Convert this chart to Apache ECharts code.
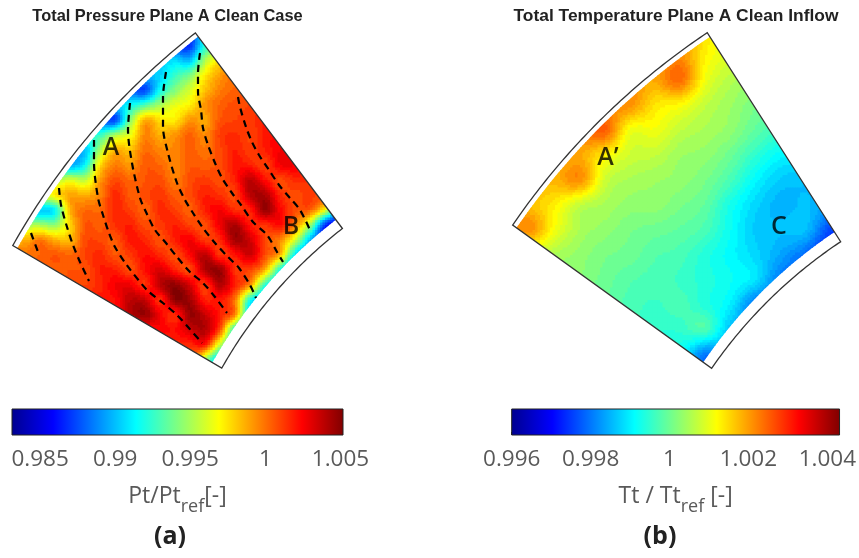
<!DOCTYPE html>
<html><head><meta charset="utf-8">
<style>html,body{margin:0;padding:0;background:#fff}#c{width:859px;height:558px}</style>
<script src="https://cdn.jsdelivr.net/npm/echarts@6/dist/echarts.min.js"></script>
</head><body><div id="c"></div>
<script>
// Sampled fields, in units of 1e-4 away from 1.0
const ptRows = [
[-130,-130,-130,-130,-130,-130,-130,-130,-130,-130,-130,-130,-130,-80,-60,-40,-20,-20,-20,-20,-20,-20,-20],
[-130,-130,-130,-130,-130,-130,-130,-130,-130,-130,-130,-130,-130,-80,-60,-40,-20,-20,-20,-20,-20,-20,-20],
[-100,-100,-100,-100,-100,-100,-100,-100,-100,-100,-100,-95,-100,-50,-25,-10,-10,-10,-10,-10,-10,-10,-10],
[-100,-100,-100,-100,-100,-100,-100,-100,-100,-100,-95,-75,-60,-28,-10,0,0,0,0,0,0,0,0],
[-120,-120,-120,-120,-120,-120,-120,-120,-120,-125,-85,-58,-40,-18,-3,3,5,5,5,5,5,5,5],
[-100,-100,-100,-100,-100,-100,-100,-100,-85,-70,-50,-36,-28,-8,3,8,10,12,12,12,12,12,12],
[-120,-120,-120,-120,-120,-120,-120,-125,-60,-14,-25,-27,-8,-12,6,10,12,18,18,18,18,18,18],
[-80,-80,-80,-80,-80,-80,-75,-50,-35,-5,-14,-8,3,-6,11,15,10,19,24,24,24,24,24],
[-100,-100,-100,-100,-100,-100,-50,-15,-18,1,-5,-5,4,-1,9,18,11,18,26,24,24,24,24],
[-105,-105,-105,-105,-105,-85,-25,-3,-9,5,2,-5,5,4,8,20,18,11,26,26,20,20,20],
[-50,-50,-50,-50,-38,-45,-10,8,2,6,8,-3,8,12,8,18,38,22,9,16,14,14,14],
[-40,-40,-40,-28,-12,-14,-4,16,5,8,13,4,8,18,14,10,38,42,16,8,12,8,5],
[-90,-90,-95,-85,-15,1,2,16,11,3,15,11,4,18,26,15,18,46,24,8,3,-35,-100],
[-50,-50,-50,-55,-22,6,4,14,18,8,12,18,10,8,28,42,20,14,22,-5,-50,-130,-150],
[-15,-15,-2,-14,-16,8,9,5,20,16,7,18,26,12,16,44,34,10,-5,-40,-100,-140,-150],
[0,0,2,6,2,10,16,6,12,22,16,8,24,38,14,20,34,8,-15,-90,-120,-130,-130],
[4,4,4,4,6,7,18,18,8,22,32,18,9,40,46,14,10,-15,-80,-120,-130,-130,-130],
[8,8,8,8,8,10,16,26,28,14,38,48,32,12,40,18,-8,-75,-110,-120,-120,-120,-120],
[20,20,20,20,20,20,20,22,38,36,16,48,44,18,20,-2,-80,-110,-120,-120,-120,-120,-120],
[20,20,20,20,20,20,20,20,38,46,26,16,46,36,18,-6,-100,-110,-110,-110,-110,-110,-110],
[20,20,20,20,20,20,20,20,20,20,24,22,34,40,6,-80,-100,-100,-100,-100,-100,-100,-100],
[16,16,16,16,16,16,16,16,16,16,16,16,16,18,-45,-90,-100,-100,-100,-100,-100,-100,-100],
[10,10,10,10,10,10,10,10,10,10,10,10,10,-50,-100,-100,-100,-100,-100,-100,-100,-100,-100],
[10,10,10,10,10,10,10,10,10,10,10,10,10,-50,-100,-100,-100,-100,-100,-100,-100,-100,-100]
];
const ttRows = [
[18,18,18,18,18,18,18,18,14,10,8,7,7,7,7],
[18,18,18,18,18,18,18,21,13,9,7,7,7,7,7],
[20,20,20,20,20,20,19,24,11,6,4,4,4,4,4],
[20,20,20,20,20,21,14,12,7,4,1,-1,-1,-1,-1],
[22,22,22,22,25,11,11,7,5,3,-1,-4,-5,-5,-5],
[17,17,17,19,13,8,7,4,3,0,-5,-9,-10,-10,-10],
[18,18,18,21,8,5,4,3,1,-3,-9,-13,-14,-14,-14],
[17,17,13,7,5,3,3,1,-1,-7,-12,-15,-14,-16,-16],
[19,21,11,5,3,1,0,-1,-3,-8,-13,-14,-14,-24,-28],
[7,7,5,3,1,0,-2,-3,-6,-9,-12,-16,-21,-28,-28],
[2,2,2,2,0,-2,-3,-4,-6,-8,-11,-20,-24,-24,-24],
[-1,-1,-1,-1,-1,-3,-4,-3,-6,-10,-20,-22,-22,-22,-22],
[-4,-4,-4,-4,-4,-4,-5,-5,-3,-14,-18,-18,-18,-18,-18],
[-8,-8,-8,-8,-8,-8,-8,-8,-20,-15,-15,-15,-15,-15,-15],
[-8,-8,-8,-8,-8,-8,-8,-8,-22,-15,-15,-15,-15,-15,-15]
];
const wakeLines = [
[[31,233],[38,252]],
[[59,188],[61,205],[67,227],[73,245],[80,262],[89,281]],
[[94,140],[94,162],[98,198],[103,215],[109,233],[115,247],[126,264],[147,290],[163,303],[177,315],[188,327],[202,343]],
[[130,103],[128,130],[132,163],[140,198],[146,212],[155,230],[166,243],[177,257],[190,272],[203,283],[215,297],[227,313]],
[[166,72],[163,97],[163,127],[168,153],[177,183],[185,200],[193,213],[203,228],[215,243],[228,257],[239,268],[250,285],[256,298]],
[[200,53],[198,73],[198,92],[201,110],[203,128],[208,145],[215,163],[222,178],[232,193],[241,205],[253,222],[267,235],[277,252],[283,262]],
[[238,97],[240,107],[246,127],[252,142],[259,155],[269,170],[279,185],[290,198],[300,210],[310,230]]
];
const marks = [[111,148,'A'],[291,227,'B'],[608,158,'A\u2019'],[779,227,'C']];
const ptTicks = [0.985,0.99,0.995,1,1.005];
const ttTicks = [0.996,0.998,1,1.002,1.004];
const ptRange = [0.98313,1.00517];
const ttRange = [0.996,1.00431];

// Layout
const ptPlot = {x0:10,y0:30,step:15,sub:6,level:4,range:ptRange,rows:ptRows,
  cx:625.4,cy:605,a0:149.6,a1:126.93,out:[710.3,715.7],inn:[468,471],cOut:[705,711],cIn:[479,482]};
const ttPlot = {x0:505,y0:30,step:25,sub:10,level:1.5,range:ttRange,rows:ttRows,
  cx:1100,cy:648,a0:144.24,a1:122.55,out:[723.8,730],inn:[478.6,482],cOut:[719,725],cIn:[489,493.5]};

const jetStops=[[0,[0,0,143]],[.125,[0,0,255]],[.375,[0,255,255]],[.625,[255,255,0]],[.875,[255,0,0]],[1,[128,0,0]]];
function jet(t){
  t=Math.max(0,Math.min(1,t));
  for(let k=1;k<jetStops.length;k++){
    if(t<=jetStops[k][0]){
      const a=jetStops[k-1],b=jetStops[k],f=(t-a[0])/(b[0]-a[0]);
      return 'rgb('+a[1].map((c,i)=>Math.round(c+(b[1][i]-c)*f)).join(',')+')';
    }
  }
  return 'rgb(128,0,0)';
}
function cr(p0,p1,p2,p3,t){return 0.5*(2*p1+(p2-p0)*t+(2*p0-5*p1+4*p2-p3)*t*t+(3*p1-p0-3*p2+p3)*t*t*t);}
function sample(m,fx,fy){
  const R=m.length,C=m[0].length,i=Math.floor(fx),j=Math.floor(fy),tx=fx-i,ty=fy-j;
  const row=r=>{const a=m[Math.max(0,Math.min(R-1,r))];const g=c=>a[Math.max(0,Math.min(C-1,c))];
    return cr(g(i-1),g(i),g(i+1),g(i+2),tx);};
  return cr(row(j-1),row(j),row(j+1),row(j+2),ty);
}
function ring(p,rA,rB,api){
  const pts=[],n=60,d=Math.PI/180;
  for(let k=0;k<=n;k++){const f=k/n,a=(p.a0+(p.a1-p.a0)*f)*d,r=rA[0]+(rA[1]-rA[0])*f;
    pts.push(api.coord([p.cx+r*Math.cos(a),p.cy-r*Math.sin(a)]));}
  for(let k=n;k>=0;k--){const f=k/n,a=(p.a0+(p.a1-p.a0)*f)*d,r=rB[0]+(rB[1]-rB[0])*f;
    pts.push(api.coord([p.cx+r*Math.cos(a),p.cy-r*Math.sin(a)]));}
  return pts;
}
function fieldSeries(p){
  const data=[];
  for(let j=0;j<p.rows.length-1;j++)for(let i=0;i<p.rows[0].length-1;i++)data.push([p.x0+i*p.step,p.y0+j*p.step,i,j]);
  return {type:'custom',coordinateSystem:'cartesian2d',xAxisIndex:0,yAxisIndex:0,silent:true,z:1,progressive:0,animation:false,
    data,encode:{x:0,y:1},clip:false,
    renderItem(params,api){
      const i=api.value(2),j=api.value(3),h=p.step/p.sub,kids=[],d=Math.PI/180;
      const a0=Math.min(p.a0,p.a1)-.3,a1=Math.max(p.a0,p.a1)+.3;
      for(let v=0;v<p.sub;v++)for(let u=0;u<p.sub;u++){
        const x=p.x0+(i+u/p.sub)*p.step,y=p.y0+(j+v/p.sub)*p.step;
        const xc=x+h/2,yc=y+h/2,r=Math.hypot(xc-p.cx,yc-p.cy),ang=Math.atan2(p.cy-yc,xc-p.cx)/d;
        if(r<p.cIn[0]-4||r>p.cOut[1]+4||ang<a0||ang>a1)continue;
        let q=sample(p.rows,i+(u+.5)/p.sub,j+(v+.5)/p.sub);
        q=Math.round(q/p.level)*p.level;
        const val=1+q*1e-4,col=jet((val-p.range[0])/(p.range[1]-p.range[0]));
        const a=api.coord([x,y]),b=api.coord([x+h,y+h]);
        kids.push({type:'rect',shape:{x:a[0],y:a[1],width:b[0]-a[0]+.6,height:b[1]-a[1]+.6},style:{fill:col}});
      }
      if(!kids.length)return null;
      return {type:'group',children:kids,silent:true,
        clipPath:{type:'polygon',shape:{points:ring(p,p.cOut,p.cIn,api)}}};
    }};
}
function outlineSeries(p){
  return {type:'custom',coordinateSystem:'cartesian2d',xAxisIndex:0,yAxisIndex:0,silent:true,z:2,animation:false,clip:false,
    data:[[p.cx,p.cy]],encode:{x:0,y:1},
    renderItem(params,api){
      return {type:'polygon',shape:{points:ring(p,p.out,p.inn,api)},style:{fill:'none',stroke:'#333',lineWidth:1.3}};
    }};
}
function barSeries(range,idx){
  return {type:'custom',coordinateSystem:'cartesian2d',xAxisIndex:idx,yAxisIndex:idx,silent:true,z:2,animation:false,clip:false,
    data:[[range[0],0,range[1],1]],encode:{x:[0,2],y:[1,3]},
    renderItem(params,api){
      const a=api.coord([api.value(0),api.value(3)]),b=api.coord([api.value(2),api.value(1)]);
      const stops=jetStops.map(s=>({offset:s[0],color:'rgb('+s[1].join(',')+')'}));
      return {type:'rect',shape:{x:a[0],y:a[1],width:b[0]-a[0],height:b[1]-a[1]},
        style:{fill:new echarts.graphic.LinearGradient(0,0,1,0,stops),stroke:'#222',lineWidth:1}};
    }};
}
function barX(range,ticks,grid,name){
  const rich={t:{fontFamily:'Open Sans',fontSize:23,color:'#595959',verticalAlign:'top'},
    s:{fontFamily:'Open Sans',fontSize:18,color:'#595959',verticalAlign:'bottom',padding:[13,0,0,0]}};
  return {type:'value',gridIndex:grid,min:range[0],max:range[1],splitLine:{show:false},axisLine:{show:false},
    axisTick:{show:true,inside:true,length:3,customValues:ticks,lineStyle:{color:'#333',width:1}},
    axisLabel:{show:true,customValues:ticks,margin:13,hideOverlap:false,fontFamily:'Open Sans',fontSize:22.5,color:'#595959',formatter:v=>String(v)},
    name,nameLocation:'middle',nameGap:50,nameTextStyle:{rich}};
}
const titleStyle={fontFamily:'Liberation Sans',fontSize:16.4,fontWeight:'bold',color:'#222'};
const titleStyleB={fontFamily:'Liberation Sans',fontSize:17.4,fontWeight:'bold',color:'#222'};
const capStyle={fontFamily:'Open Sans',fontSize:25,fontWeight:'bold',color:'#222'};
const option={
  backgroundColor:'#fff',animation:false,
  title:[
    {text:'Total Pressure Plane A Clean Case',left:167.5,top:8,textAlign:'center',padding:0,textStyle:titleStyle},
    {text:'Total Temperature Plane A Clean Inflow',left:676,top:8,textAlign:'center',padding:0,textStyle:titleStyleB},
    {text:'(a)',left:170,top:524,textAlign:'center',padding:0,textStyle:capStyle},
    {text:'(b)',left:660,top:524,textAlign:'center',padding:0,textStyle:capStyle}
  ],
  grid:[
    {left:0,top:0,width:859,height:558},
    {left:12,top:409,width:331,height:26},
    {left:511.7,top:409,width:329,height:26}
  ],
  xAxis:[
    {type:'value',gridIndex:0,min:0,max:859,show:false},
    barX(ptRange,ptTicks,1,'{t|Pt/Pt}{s|ref}{t|[-]}'),
    barX(ttRange,ttTicks,2,'{t|Tt / Tt}{s|ref}{t| [-]}')
  ],
  yAxis:[
    {type:'value',gridIndex:0,min:0,max:558,inverse:true,show:false},
    {type:'value',gridIndex:1,min:0,max:1,show:false},
    {type:'value',gridIndex:2,min:0,max:1,show:false}
  ],
  series:[
    fieldSeries(ptPlot),fieldSeries(ttPlot),outlineSeries(ptPlot),outlineSeries(ttPlot),
    barSeries(ptRange,1),barSeries(ttRange,2),
    ...wakeLines.map(l=>({type:'line',xAxisIndex:0,yAxisIndex:0,data:l,smooth:.3,symbol:'none',silent:true,z:3,clip:false,
      lineStyle:{color:'#000',width:2.2,type:[7,5]}})),
    {type:'scatter',xAxisIndex:0,yAxisIndex:0,symbolSize:0,silent:true,z:4,data:marks,clip:false,
      label:{show:true,position:'inside',formatter:p=>p.data[2],fontFamily:'Open Sans',fontWeight:600,fontSize:25,color:'#000'}}
  ]
};
const chart=echarts.init(document.getElementById('c'),null,{renderer:'canvas'});
chart.setOption(option);
</script></body></html>
